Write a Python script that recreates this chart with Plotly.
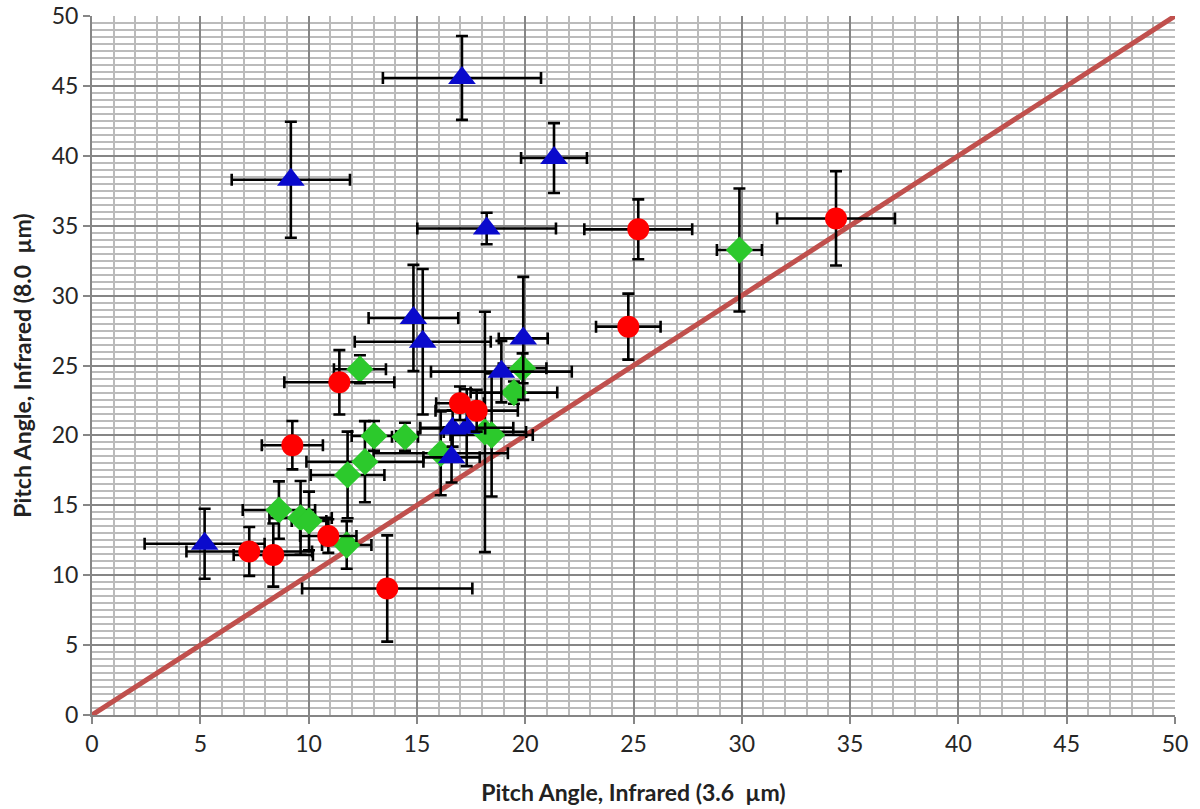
import plotly.graph_objects as go

# Pitch angles (degrees) measured at 3.6 um (x) and 8.0 um (y), with uncertainties
red_x = [7.26, 8.37, 9.25, 10.91, 11.42, 13.63, 16.99, 17.76, 24.76, 25.22, 34.35]
red_y = [11.70, 11.44, 19.30, 12.80, 23.80, 9.05, 22.30, 21.77, 27.78, 34.74, 35.52]
red_ex = [2.90, 1.83, 1.41, 1.30, 2.54, 3.93, 1.10, 1.90, 1.49, 2.49, 2.72]
red_ey = [1.75, 2.26, 1.73, 1.20, 2.30, 3.80, 1.20, 1.50, 2.36, 2.14, 3.37]

blue_x = [5.20, 9.18, 17.08, 21.33, 18.22, 14.84, 15.27, 19.91, 18.90, 16.65, 17.30, 16.60]
blue_y = [12.25, 38.29, 45.57, 39.84, 34.80, 28.40, 26.70, 26.94, 24.56, 20.50, 20.55, 18.43]
blue_ex = [2.77, 2.73, 3.65, 1.52, 3.20, 2.07, 3.14, 1.13, 3.25, 1.50, 2.15, 1.30]
blue_ey = [2.50, 4.15, 3.00, 2.50, 1.13, 3.80, 5.20, 4.40, 2.20, 1.30, 2.75, 1.80]

green_x = [8.63, 9.63, 10.02, 11.76, 11.80, 12.37, 12.60, 13.02, 14.45, 16.10, 18.14, 18.45, 19.48, 19.88, 29.89]
green_y = [14.66, 14.10, 13.88, 12.16, 17.17, 24.73, 18.12, 19.96, 19.90, 18.72, 20.25, 20.03, 23.06, 24.80, 33.26]
green_ex = [1.67, 1.44, 0.80, 1.14, 1.70, 1.20, 2.70, 1.03, 0.60, 3.10, 1.90, 1.90, 2.00, 1.10, 1.04]
green_ey = [2.05, 2.64, 2.10, 1.70, 3.10, 1.00, 2.90, 1.07, 1.00, 3.00, 8.60, 4.40, 0.80, 1.07, 4.40]

# One-to-one reference line
line_x = [0, 50]
line_y = [0, 50]

FONT = "Lato, Carlito, sans-serif"


def err(vals):
    return dict(type="data", array=vals, visible=True, color="black",
                thickness=2.6, width=6)


fig = go.Figure()

fig.add_trace(go.Scatter(
    x=line_x, y=line_y, mode="lines",
    line=dict(color="#C0504D", width=5), hoverinfo="skip"))

fig.add_trace(go.Scatter(
    x=green_x, y=green_y, mode="markers",
    marker=dict(symbol="diamond", size=21, color="#2CC92C", line=dict(width=0)),
    error_x=err(green_ex), error_y=err(green_ey)))

fig.add_trace(go.Scatter(
    x=blue_x, y=blue_y, mode="markers",
    marker=dict(symbol="triangle-up", size=24, color="#0A0ACC", line=dict(width=0)),
    error_x=err(blue_ex), error_y=err(blue_ey)))

fig.add_trace(go.Scatter(
    x=red_x, y=red_y, mode="markers",
    marker=dict(symbol="circle", size=22, color="#FF0000", line=dict(width=0)),
    error_x=err(red_ex), error_y=err(red_ey)))

axis_common = dict(
    range=[0, 50], dtick=5, tick0=0,
    showgrid=True, gridcolor="#868686", gridwidth=2,
    showline=True, linecolor="#868686", linewidth=2,
    ticks="outside", ticklen=7, tickwidth=2, tickcolor="#868686",
    zeroline=False, automargin=False,
    tickfont=dict(family=FONT, size=23, color="#262626"),
)

fig.update_layout(
    width=1200, height=809,
    margin=dict(l=92, r=25, t=16, b=94),
    paper_bgcolor="white", plot_bgcolor="white",
    showlegend=False,
    xaxis=dict(
        **axis_common,
        minor=dict(dtick=1, showgrid=True, gridcolor="#BBBBBB", gridwidth=2),
        title=dict(text="Pitch Angle, Infrared (3.6  µm)", standoff=29,
                   font=dict(family=FONT, size=23, color="#222222", weight="bold")),
    ),
    yaxis=dict(
        **axis_common,
        minor=dict(dtick=0.5, showgrid=True, gridcolor="#BBBBBB", gridwidth=2),
        title=dict(text="Pitch Angle, Infrared (8.0  µm)", standoff=14,
                   font=dict(family=FONT, size=23, color="#222222", weight="bold")),
    ),
)

fig.write_html("out.html")
